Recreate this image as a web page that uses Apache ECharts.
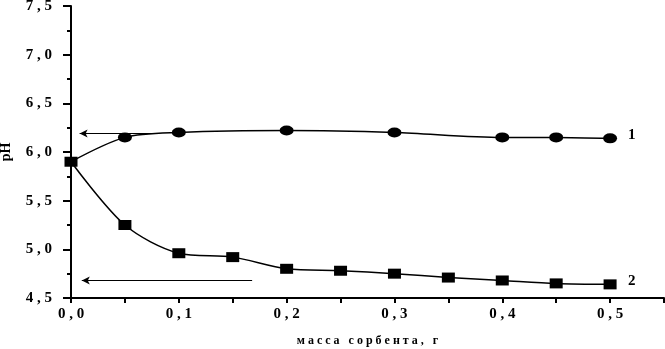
<!DOCTYPE html>
<html>
<head>
<meta charset="utf-8">
<script src="https://cdn.jsdelivr.net/npm/echarts@6/dist/echarts.min.js"></script>
<style>
  html, body { margin: 0; padding: 0; background: #fff; }
  #chart { width: 665px; height: 349px; }
</style>
</head>
<body>
<div id="chart"></div>
<script>
// масса сорбента, г
const masses = [0, 0.05, 0.1, 0.15, 0.2, 0.25, 0.3, 0.35, 0.4, 0.45, 0.5];
// curve 1 (circles), no points at 0.15, 0.25, 0.35
const curve1X = [0, 0.05, 0.1, 0.2, 0.3, 0.4, 0.45, 0.5];
const curve1Y = [5.9, 6.15, 6.2, 6.22, 6.2, 6.15, 6.15, 6.14];
// curve 2 (squares)
const curve2Y = [5.9, 5.25, 4.96, 4.92, 4.8, 4.78, 4.75, 4.71, 4.68, 4.65, 4.64];
// arrows pointing to the axis
const arrow1 = [[0.008, 6.19], [0.078, 6.19]];
const arrow2 = [[0.01, 4.68], [0.168, 4.68]];
const curveLabels = ['1', '2'];
const xName = 'масса сорбента, г';
const yName = 'pH';

const fmt = v => v.toFixed(1).replace('.', ' , ');
const font = 'Liberation Serif';

const chart = echarts.init(document.getElementById('chart'));

const option = {
    backgroundColor: '#fff',
    animation: false,
    grid: { left: 71, right: 1, top: 6, bottom: 51, outerBoundsMode: 'none', containLabel: false },
    xAxis: {
        type: 'value',
        min: 0,
        max: 0.55,
        interval: 0.05,
        name: xName.split('').join(' '),
        nameLocation: 'middle',
        nameGap: 37,
        nameTextStyle: { color: '#000', fontFamily: font, fontWeight: 'bold', fontSize: 12 },
        axisLine: { lineStyle: { color: '#000', width: 2 } },
        axisTick: { inside: false, length: 5, lineStyle: { color: '#000', width: 2 } },
        axisLabel: {
            color: '#000', fontFamily: font, fontWeight: 'bold', fontSize: 15, margin: 9,
            formatter: v => (Math.round(v * 100) % 10 === 0 && v < 0.51) ? fmt(v) : ''
        },
        splitLine: { show: false }
    },
    yAxis: {
        type: 'value',
        min: 4.5,
        max: 7.5,
        interval: 0.5,
        name: yName,
        nameLocation: 'middle',
        nameGap: 58,
        nameRotate: 90,
        nameTextStyle: { color: '#000', fontFamily: font, fontWeight: 'bold', fontSize: 14 },
        axisLine: { show: true, lineStyle: { color: '#000', width: 2 } },
        axisTick: { show: true, length: 8, lineStyle: { color: '#000', width: 2 } },
        minorTick: { show: true, splitNumber: 2, length: 4, lineStyle: { color: '#000', width: 2 } },
        axisLabel: { color: '#000', fontFamily: font, fontWeight: 'bold', fontSize: 15, margin: 19, formatter: fmt },
        splitLine: { show: false }
    },
    series: [
        {
            type: 'line',
            data: curve1X.map((x, i) => i === 0 ? { value: [x, curve1Y[i]], symbol: 'none' } : [x, curve1Y[i]]),
            smooth: 0.3,
            symbol: 'circle',
            symbolSize: [14, 10],
            itemStyle: { color: '#000' },
            lineStyle: { color: '#000', width: 1.5 },
            endLabel: {
                show: true, formatter: curveLabels[0], distance: 18, offset: [0, -3],
                color: '#000', fontFamily: font, fontWeight: 'bold', fontSize: 15
            },
            markLine: {
                silent: true,
                symbol: ['arrow', 'none'],
                symbolSize: [6, 8],
                label: { show: false },
                lineStyle: { color: '#000', width: 1, type: 'solid' },
                data: [
                    [{ coord: arrow1[0] }, { coord: arrow1[1] }],
                    [{ coord: arrow2[0] }, { coord: arrow2[1] }]
                ]
            }
        },
        {
            type: 'line',
            data: masses.map((x, i) => [x, curve2Y[i]]),
            smooth: 0.3,
            symbol: 'rect',
            symbolSize: [13, 10],
            itemStyle: { color: '#000' },
            lineStyle: { color: '#000', width: 1.5 },
            endLabel: {
                show: true, formatter: curveLabels[1], distance: 18, offset: [0, -3],
                color: '#000', fontFamily: font, fontWeight: 'bold', fontSize: 15
            }
        }
    ]
};

chart.setOption(option);
</script>
</body>
</html>
